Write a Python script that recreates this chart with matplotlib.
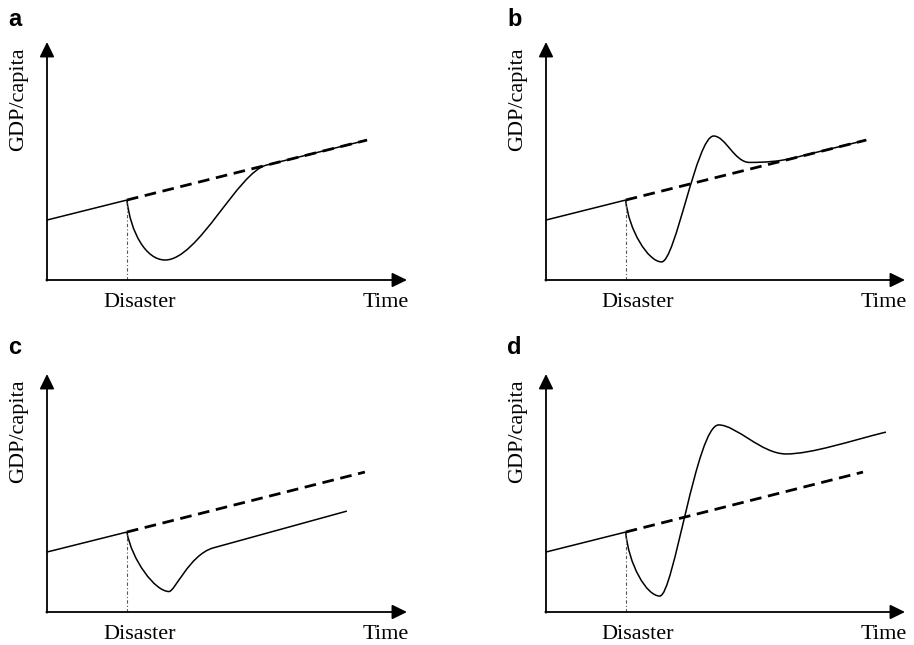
import matplotlib
matplotlib.use("Agg")
import matplotlib.pyplot as plt
from matplotlib.path import Path
from matplotlib.patches import PathPatch

# panel letters
panels = ["a", "b", "c", "d"]

# common pre-disaster trend (time, GDP/capita) in arbitrary units
pre_start = (0.0, 2.52)
disaster_pt = (2.22, 3.36)

# end of the counterfactual (dashed) trend per panel
trend_end = [(8.89, 5.88), (8.92, 5.88), (8.83, 5.88), (8.83, 5.88)]

# post-disaster paths: vertices and segment codes (M=move, C=bezier ctrl, L=line)
rec_a = [(2.22, 3.36), (2.32, 2.0), (2.75, 0.84), (3.28, 0.84),
         (4.2, 0.84), (5.3, 4.53), (6.1, 4.83), (8.89, 5.88)]
codes_a = "MCCCCCCL"
rec_b = [(2.22, 3.36), (2.3, 2.1), (2.85, 0.76), (3.22, 0.76),
         (3.6, 0.76), (4.2, 6.05), (4.67, 6.05),
         (5.0, 6.05), (5.25, 4.94), (5.67, 4.94),
         (6.1, 4.94), (6.5, 4.98), (6.9, 5.13), (8.92, 5.88)]
codes_b = "MCCCCCCCCCCCCL"
rec_c = [(2.22, 3.36), (2.35, 2.2), (3.0, 0.86), (3.39, 0.86),
         (3.55, 0.86), (3.95, 2.39), (4.61, 2.69), (8.33, 4.24)]
codes_c = "MCCCCCCL"
rec_d = [(2.22, 3.36), (2.3, 2.0), (2.8, 0.67), (3.17, 0.67),
         (3.55, 0.67), (4.2, 7.86), (4.81, 7.86),
         (5.3, 7.86), (6.0, 6.64), (6.69, 6.64),
         (7.4, 6.64), (8.5, 7.2), (9.47, 7.56)]
codes_d = "MCCCCCCCCCCCC"

recoveries = [(rec_a, codes_a), (rec_b, codes_b), (rec_c, codes_c), (rec_d, codes_d)]

x_label = "Time"
event_label = "Disaster"
y_label = "GDP/capita"

code_map = {"M": Path.MOVETO, "C": Path.CURVE4, "L": Path.LINETO}

W, H = 914, 645
fig = plt.figure(figsize=(W / 100, H / 100), dpi=100)

# axes boxes in pixels: (left, top-of-arrow, right-of-arrow, x-axis y)
boxes = [(47, 42, 407, 280), (546, 42, 905, 280),
         (47, 374, 407, 612), (546, 374, 905, 612)]
letter_pos = [(8, 26), (507, 26), (8, 354), (507, 354)]

serif = "Liberation Serif"

for i, name in enumerate(panels):
    l, t, r, b = boxes[i]
    ax = fig.add_axes([l / W, (H - b) / H, (r - l) / W, (b - t) / H])
    ax.set_xlim(0, 10)
    ax.set_ylim(0, 10)
    ax.axis("off")

    # axes with arrow heads
    arrow = dict(arrowstyle="-|>,head_length=0.45,head_width=0.22",
                 lw=1.3, color="black", mutation_scale=20,
                 shrinkA=0, shrinkB=0)
    ax.annotate("", xy=(10, 0), xytext=(-0.02, 0), arrowprops=arrow,
                annotation_clip=False)
    ax.annotate("", xy=(0, 10), xytext=(0, -0.03), arrowprops=arrow,
                annotation_clip=False)

    # pre-disaster trend
    ax.plot([pre_start[0], disaster_pt[0]], [pre_start[1], disaster_pt[1]],
            color="black", lw=1.1, solid_capstyle="butt", clip_on=False)

    # disaster marker
    ax.plot([disaster_pt[0], disaster_pt[0]], [0, disaster_pt[1]],
            color="#555555", lw=0.8, linestyle=(0, (3, 2, 1, 2)), clip_on=False)

    # post-disaster path
    verts, codes = recoveries[i]
    path = Path(verts, [code_map[c] for c in codes])
    ax.add_patch(PathPatch(path, facecolor="none", edgecolor="black",
                           lw=1.1, clip_on=False))

    # counterfactual trend
    ex, ey = trend_end[i]
    ax.plot([disaster_pt[0], ex], [disaster_pt[1], ey], color="black",
            lw=2.0, linestyle=(0, (4.2, 2.4)), clip_on=False, zorder=5)

    ax.text(2.56, -0.95, event_label, ha="center", va="center",
            fontsize=16, family=serif, clip_on=False)
    ax.text(9.42, -0.95, x_label, ha="center", va="center",
            fontsize=16, family=serif, clip_on=False)
    ax.text(-0.8, 7.58, y_label, ha="center", va="center", rotation=90,
            fontsize=16, family=serif, clip_on=False)

    lx, ly = letter_pos[i]
    fig.text(lx / W, 1 - ly / H, name, ha="left", va="baseline",
             fontsize=17, fontweight="bold", family="Liberation Sans")

fig.savefig("out.png", dpi=100)
